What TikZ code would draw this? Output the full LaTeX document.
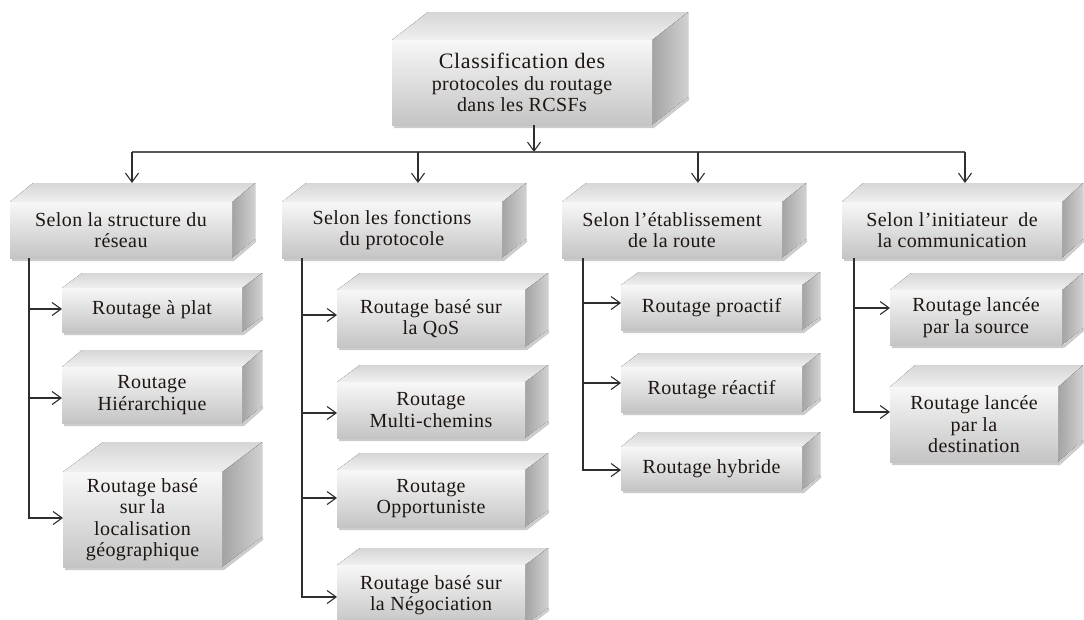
\documentclass[tikz,border=0pt]{standalone}
\usepackage{fontspec}
\setmainfont{Liberation Serif}
\newfontfamily\boxfont{Liberation Serif}[LetterSpace=2]
\newfontfamily\titlefont{Liberation Serif}[LetterSpace=3]
\usetikzlibrary{arrows.meta}

\definecolor{inktext}{HTML}{1E1612}
\definecolor{wire}{HTML}{2E2E2E}

\tikzset{
  frontface/.style={rectangle, inner sep=0pt, outer sep=0pt, align=center,
    top color=black!3, bottom color=black!23, text=inktext,
    font=\boxfont\fontsize{20}{21.5}\selectfont},
  topfill/.style={top color=black!16, bottom color=black!6},
  sidefill/.style={left color=black!36, right color=black!18},
  dropshadow/.style={fill=black!45, opacity=0.45},
  link/.style={draw=wire, line width=1.2pt},
  arrow/.style={link, -{Straight Barb[length=9pt, width=13pt, line width=1.1pt]}},
}

% \cubebox{name}{x1}{y1}{x2}{y2}{depth x}{depth y}{text}
% front face spans (x1,y1)-(x2,y2); top and side faces recede up and right
\newcommand\cubebox[8]{%
  \fill[dropshadow] (#2+2,#5) -- (#4+1,#5) -- (#4+#6+1,#5-#7) -- (#4+#6+1,#5-#7+3)
        -- (#4+2,#5+3) -- (#2+2,#5+3) -- cycle;
  \fill[sidefill] (#4,#3) -- (#4+#6,#3-#7) -- (#4+#6,#5-#7) -- (#4,#5) -- cycle;
  \fill[topfill] (#2,#3) -- (#2+#6,#3-#7) -- (#4+#6,#3-#7) -- (#4,#3) -- cycle;
  \node[frontface, minimum width={(#4-#2)*1pt}, minimum height={(#5-#3)*1pt}]
    (#1) at ({(#2+#4)/2},{(#3+#5)/2}) {#8};
  \coordinate (#1-back) at ({(#2+#4+#6)/2},{#3-#7});
}

\begin{document}
\begin{tikzpicture}[x=1pt,y=-1pt]
\useasboundingbox (0,0) rectangle (1084,619);
\fill[white] (0,0) rectangle (1084,619);

% root
\cubebox{root}{392}{40}{652}{125}{36}{28}{\titlefont\fontsize{22}{22.5}\selectfont
  Classification des\\protocoles du routage\\dans les RCSFs}

% first level
\cubebox{crit1}{10}{202}{232}{258}{23}{19}{Selon la structure du\\réseau}
\cubebox{crit2}{282}{202}{502}{258}{24}{19}{Selon les fonctions\\du protocole}
\cubebox{crit3}{562}{202}{782}{258}{24}{19}{Selon l’établissement\\de la route}
\cubebox{crit4}{842}{202}{1062}{258}{21}{19}{Selon l’initiateur~ de\\la communication}

% network structure
\cubebox{plat}{62}{288}{242}{332}{20}{15}{Routage à plat}
\cubebox{hier}{62}{367}{242}{423}{20}{17}{Routage\\Hiérarchique}
\cubebox{geo}{63}{472}{222}{567}{40}{30}{Routage basé\\sur la\\localisation\\géographique}

% protocol functions
\cubebox{qos}{337}{290}{525}{347}{23}{17}{Routage basé sur\\la QoS}
\cubebox{multi}{337}{382}{525}{438}{23}{17}{Routage\\Multi-chemins}
\cubebox{oppo}{337}{470}{525}{527}{23}{17}{Routage\\Opportuniste}
\cubebox{nego}{337}{565}{525}{625}{23}{17}{Routage basé sur\\la Négociation}

% route establishment
\cubebox{proa}{621}{285}{802}{330}{18}{13}{Routage proactif}
\cubebox{reac}{621}{367}{802}{412}{18}{14}{Routage réactif}
\cubebox{hybr}{621}{447}{802}{490}{18}{15}{Routage hybride}

% communication initiator
\cubebox{src}{890}{290}{1062}{345}{21}{17}{Routage lancée\\par la source}
\cubebox{dst}{890}{387}{1058}{462}{25}{22}{Routage lancée\\par la\\destination}

% distribution bus
\coordinate (hub) at (534,152);
\coordinate (d1) at (132,152);
\coordinate (d2) at (418,152);
\coordinate (d3) at (698,152);
\coordinate (d4) at (965,152);
\draw[arrow] (root.south -| hub) -- (hub);
\draw[link, draw=black!65, line width=1.5pt] (d1) -- (d4);
\draw[arrow] (d1) -- (d1 |- crit1-back);
\draw[arrow] (d2) -- (d2 |- crit2-back);
\draw[arrow] (d3) -- (d3 |- crit3-back);
\draw[arrow] (d4) -- (d4 |- crit4-back);

% stems
\coordinate (s1) at (29,258);
\coordinate (s2) at (302,258);
\coordinate (s3) at (583,258);
\coordinate (s4) at (854,258);

\draw[arrow] (s1) |- (plat.west |- 0,309);
\draw[arrow] (s1) |- (hier.west |- 0,398);
\draw[arrow] (s1) |- (geo.west |- 0,518);

\draw[arrow] (s2) |- (qos.west |- 0,315);
\draw[arrow] (s2) |- (multi.west |- 0,413);
\draw[arrow] (s2) |- (oppo.west |- 0,498);
\draw[arrow] (s2) |- (nego.west |- 0,597);

\draw[arrow] (s3) |- (proa.west |- 0,303);
\draw[arrow] (s3) |- (reac.west |- 0,383);
\draw[arrow] (s3) |- (hybr.west |- 0,470);

\draw[arrow] (s4) |- (src.west |- 0,308);
\draw[arrow] (s4) |- (dst.west |- 0,412);
\end{tikzpicture}
\end{document}
